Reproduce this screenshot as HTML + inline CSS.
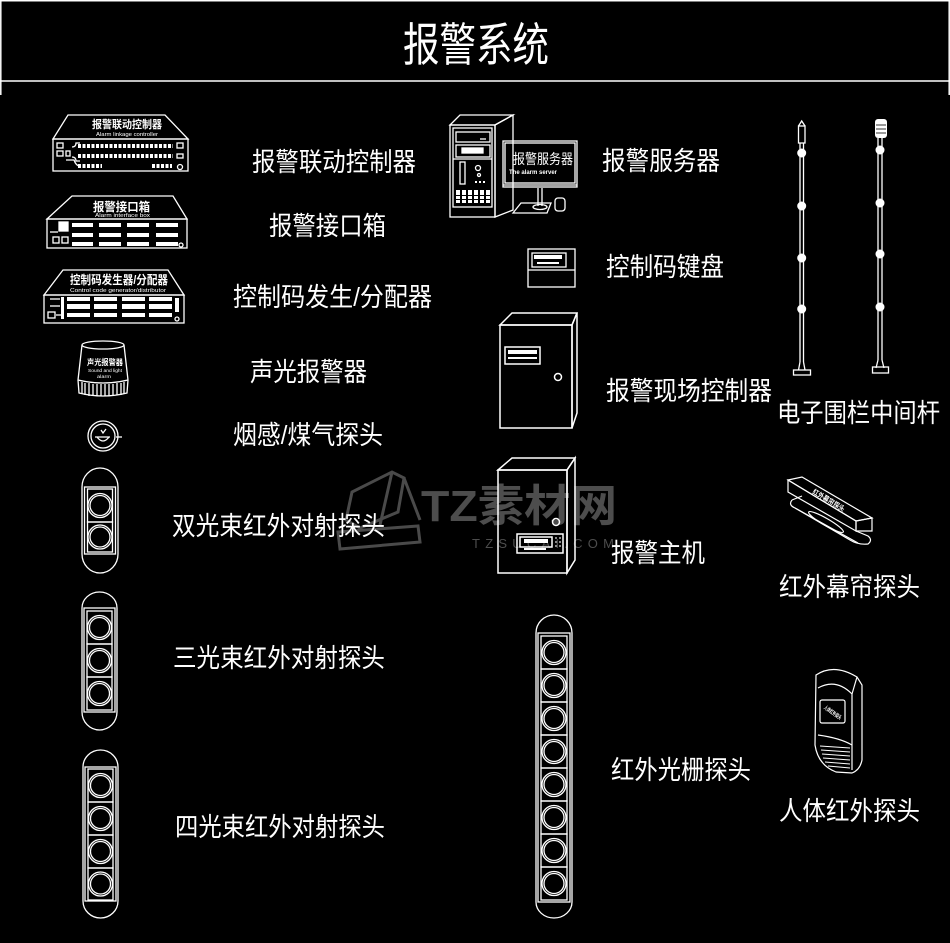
<!DOCTYPE html>
<html><head><meta charset="utf-8"><style>
html,body{margin:0;padding:0;background:#000;}
svg{display:block;}
text{font-family:"Liberation Sans","Noto Sans CJK SC",sans-serif;fill:#fff;}
</style></head><body>
<svg width="950" height="943" viewBox="0 0 950 943" xmlns="http://www.w3.org/2000/svg">
<rect width="950" height="943" fill="#000"/>
<!-- header frame -->
<g stroke="#fff" stroke-width="1.5" fill="none">
<line x1="0" y1="0.8" x2="950" y2="0.8"/>
<line x1="0.8" y1="0" x2="0.8" y2="95"/>
<line x1="949.2" y1="0" x2="949.2" y2="95"/>
<line x1="0" y1="81" x2="950" y2="81"/>
</g>
<text x="403" y="61" font-size="46" textLength="146" lengthAdjust="spacingAndGlyphs">报警系统</text>

<!-- watermark -->
<g stroke="#4a4a4a" stroke-width="3" fill="none">
<polygon points="338,532 418,526 420,542 340,549"/>
<polygon points="346,520 352,492 392,472 404,478 398,512 360,528"/>
<line x1="392" y1="472" x2="380" y2="525"/>
<line x1="404" y1="478" x2="420" y2="520"/>
</g>
<text x="421" y="521" font-size="44" font-weight="bold" style="fill:#4d4d4d" textLength="196" lengthAdjust="spacingAndGlyphs">TZ素材网</text>
<text x="472" y="548" font-size="13" style="fill:#4d4d4d" textLength="142" lengthAdjust="spacing">TZSUCAI.COM</text>

<!-- Device 1: alarm linkage controller -->
<g stroke="#fff" stroke-width="1.3" fill="none">
<polygon points="53,139 68,115 165,115 188,139"/>
<rect x="53" y="139" width="135" height="32"/>
<rect x="57" y="143" width="6" height="5"/><rect x="57" y="151" width="6" height="5"/><rect x="66" y="151" width="4" height="5"/>
<path d="M72,147 Q76,147 76,143 L80,143 M72,157 Q76,157 76,161 L80,161 M66,160 L74,160 Q76,166 80,166"/>
<rect x="177" y="143" width="6" height="5"/><rect x="177" y="154" width="6" height="4"/>
<circle cx="180" cy="167" r="2.5"/>
</g>
<g stroke="#fff" stroke-width="4" stroke-dasharray="3 1.5">
<line x1="78" y1="146" x2="173" y2="146"/>
<line x1="78" y1="156" x2="173" y2="156"/>
<line x1="78" y1="166" x2="102" y2="166"/>
<line x1="152" y1="166" x2="172" y2="166"/>
</g>
<text x="92" y="128" font-size="11" font-weight="bold" textLength="70" lengthAdjust="spacingAndGlyphs">报警联动控制器</text>
<text x="96" y="136" font-size="5.5" textLength="62" lengthAdjust="spacingAndGlyphs">Alarm linkage controller</text>

<!-- Device 2: interface box -->
<g stroke="#fff" stroke-width="1.3" fill="none">
<polygon points="47,219 72,196 173,196 187,219"/>
<rect x="47" y="219" width="140" height="29"/>
<rect x="59" y="222" width="9" height="9" fill="#fff"/>
<rect x="53" y="237" width="6" height="6"/><rect x="62" y="237" width="6" height="6"/>
<line x1="50" y1="232" x2="58" y2="232"/>
<circle cx="181" cy="245" r="2"/>
</g>
<g fill="#fff">
<rect x="72" y="223" width="21" height="4"/><rect x="99" y="223" width="22" height="4"/><rect x="127" y="223" width="22" height="4"/><rect x="156" y="223" width="22" height="4"/>
<rect x="72" y="233" width="21" height="4"/><rect x="99" y="233" width="22" height="4"/><rect x="127" y="233" width="22" height="4"/><rect x="156" y="233" width="22" height="4"/>
<rect x="72" y="242" width="21" height="4"/><rect x="99" y="242" width="22" height="4"/><rect x="127" y="242" width="22" height="4"/><rect x="156" y="242" width="22" height="4"/>
</g>
<text x="93" y="211" font-size="12" font-weight="bold" textLength="57" lengthAdjust="spacingAndGlyphs">报警接口箱</text>
<text x="95" y="217" font-size="5" textLength="55" lengthAdjust="spacingAndGlyphs">Alarm interface box</text>

<!-- Device 3: control code generator -->
<g stroke="#fff" stroke-width="1.3" fill="none">
<polygon points="44,295 63,270 168,270 184,295"/>
<rect x="44" y="295" width="140" height="28"/>
<line x1="50" y1="299" x2="60" y2="299"/><line x1="50" y1="306" x2="60" y2="306"/>
<rect x="48" y="312" width="7" height="6"/><line x1="56" y1="315" x2="63" y2="315"/>
<circle cx="177" cy="319" r="2"/>
</g>
<g fill="#fff">
<rect x="67" y="297" width="23" height="4"/><rect x="94" y="297" width="23" height="4"/><rect x="122" y="297" width="23" height="4"/><rect x="149" y="297" width="23" height="4"/>
<rect x="67" y="304" width="23" height="5"/><rect x="94" y="304" width="23" height="5"/><rect x="122" y="304" width="23" height="5"/><rect x="149" y="304" width="23" height="5"/>
<rect x="67" y="313" width="23" height="4"/><rect x="94" y="313" width="23" height="4"/><rect x="122" y="313" width="23" height="4"/><rect x="149" y="313" width="23" height="4"/>
<rect x="61" y="297" width="3" height="22"/><rect x="175" y="298" width="4" height="14"/>
</g>
<text x="70" y="284" font-size="12" font-weight="bold" textLength="98" lengthAdjust="spacingAndGlyphs">控制码发生器/分配器</text>
<text x="70" y="292" font-size="5" textLength="96" lengthAdjust="spacingAndGlyphs">Control code generator/distributor</text>

<!-- Sound & light alarm -->
<g stroke="#fff" stroke-width="1.3" fill="none">
<ellipse cx="103" cy="345" rx="21" ry="4"/>
<path d="M82,345 L78,380 M124,345 L128,380"/>
<path d="M78,380 Q103,386 128,380"/>
<path d="M78,380 L79,393 Q103,399 127,393 L128,380"/>
<path d="M82,382 V394 M85,383 V395 M89,383 V396 M93,384 V396 M97,384 V396 M101,384 V396 M105,384 V396 M109,384 V396 M113,384 V396 M117,383 V395 M121,383 V395 M124,382 V394"/>
</g>
<text x="87" y="365" font-size="8" font-weight="bold" textLength="36" lengthAdjust="spacingAndGlyphs">声光报警器</text>
<text x="88" y="372" font-size="4.5" textLength="34" lengthAdjust="spacingAndGlyphs">Sound and light</text>
<text x="97" y="378" font-size="4.5" textLength="14" lengthAdjust="spacingAndGlyphs">alarm</text>

<!-- Smoke detector -->
<g stroke="#fff" stroke-width="1.3" fill="none">
<circle cx="103" cy="436" r="15"/>
<circle cx="103" cy="436" r="12"/>
<path d="M95,437 L110,437 M97,437 Q103,445 109,437 M101,430 L103,433 L106,429"/>
<line x1="116" y1="437" x2="122" y2="437"/>
</g>

<!-- Dual beam -->
<g stroke="#fff" stroke-width="1.3" fill="none">
<path d="M82,487 A18,19 0 0 1 118,487 L118,554 A18,19 0 0 1 82,554 Z"/>
<rect x="84.5" y="487" width="31" height="67"/>
<rect x="87.5" y="489" width="25" height="33"/><circle cx="100" cy="505.5" r="12"/><circle cx="100" cy="505.5" r="10"/>
<rect x="87.5" y="522" width="25" height="30"/><circle cx="100" cy="537" r="12"/><circle cx="100" cy="537" r="10"/>
</g>

<!-- Triple beam -->
<g stroke="#fff" stroke-width="1.3" fill="none">
<path d="M82,608 A17.5,16 0 0 1 117,608 L117,712 A17.5,18 0 0 1 82,712 Z"/>
<rect x="84" y="608" width="31" height="104"/>
<rect x="87" y="611" width="25" height="33"/><circle cx="99.5" cy="627.5" r="12"/><circle cx="99.5" cy="627.5" r="10"/>
<rect x="87" y="644" width="25" height="33"/><circle cx="99.5" cy="660.5" r="12"/><circle cx="99.5" cy="660.5" r="10"/>
<rect x="87" y="677" width="25" height="33"/><circle cx="99.5" cy="693.5" r="12"/><circle cx="99.5" cy="693.5" r="10"/>
</g>

<!-- Quad beam -->
<g stroke="#fff" stroke-width="1.3" fill="none">
<path d="M83,767 A17.5,17 0 0 1 118,767 L118,901 A17.5,17 0 0 1 83,901 Z"/>
<rect x="85" y="767" width="31" height="134"/>
<rect x="88" y="769" width="25" height="33"/><circle cx="100.5" cy="785.5" r="12"/><circle cx="100.5" cy="785.5" r="10"/>
<rect x="88" y="802" width="25" height="33"/><circle cx="100.5" cy="818.5" r="12"/><circle cx="100.5" cy="818.5" r="10"/>
<rect x="88" y="835" width="25" height="33"/><circle cx="100.5" cy="851.5" r="12"/><circle cx="100.5" cy="851.5" r="10"/>
<rect x="88" y="868" width="25" height="32"/><circle cx="100.5" cy="884" r="12"/><circle cx="100.5" cy="884" r="10"/>
</g>

<!-- Grating -->
<g stroke="#fff" stroke-width="1.3" fill="none">
<path d="M536,633 A18,18 0 0 1 572,633 L572,902 A18,16 0 0 1 536,902 Z"/>
<rect x="538" y="633" width="32" height="269"/>
<rect x="541" y="636" width="26" height="33"/><circle cx="554" cy="652.5" r="12"/><circle cx="554" cy="652.5" r="10"/>
<rect x="541" y="669" width="26" height="33"/><circle cx="554" cy="685.5" r="12"/><circle cx="554" cy="685.5" r="10"/>
<rect x="541" y="702" width="26" height="33"/><circle cx="554" cy="718.5" r="12"/><circle cx="554" cy="718.5" r="10"/>
<rect x="541" y="735" width="26" height="33"/><circle cx="554" cy="751.5" r="12"/><circle cx="554" cy="751.5" r="10"/>
<rect x="541" y="768" width="26" height="33"/><circle cx="554" cy="784.5" r="12"/><circle cx="554" cy="784.5" r="10"/>
<rect x="541" y="801" width="26" height="33"/><circle cx="554" cy="817.5" r="12"/><circle cx="554" cy="817.5" r="10"/>
<rect x="541" y="834" width="26" height="33"/><circle cx="554" cy="850.5" r="12"/><circle cx="554" cy="850.5" r="10"/>
<rect x="541" y="867" width="26" height="33"/><circle cx="554" cy="883.5" r="12"/><circle cx="554" cy="883.5" r="10"/>
</g>

<!-- Server -->
<g stroke="#fff" stroke-width="1.3" fill="none">
<polygon points="450,125 460,115 513,115 495,125"/>
<polygon points="495,125 513,115 513,210 495,217"/>
<rect x="450" y="125" width="45" height="92"/>
<rect x="453" y="128" width="39" height="79"/>
<rect x="456" y="132" width="34" height="10"/>
<line x1="480" y1="139" x2="486" y2="139"/>
<rect x="456" y="145" width="34" height="12"/>
<rect x="462" y="148" width="21" height="5" fill="#fff"/>
<line x1="453" y1="159" x2="492" y2="159"/>
<rect x="460" y="162" width="5" height="22"/>
<circle cx="478" cy="168" r="2.5"/><circle cx="479" cy="175" r="1.5"/>
<rect x="503" y="141" width="74" height="46"/>
<rect x="505" y="143" width="70" height="40"/>
<line x1="503" y1="185" x2="577" y2="185"/>
<line x1="538" y1="188" x2="538" y2="206"/><line x1="542" y1="188" x2="542" y2="206"/>
<polygon points="513,213 521,203 551,203 547,213"/>
<ellipse cx="540" cy="207" rx="7" ry="2.5"/>
<rect x="555" y="198" width="10" height="13" rx="3"/>
</g>
<g fill="#fff">
<rect x="475" y="181" width="2" height="2"/><rect x="479" y="181" width="2" height="2"/><rect x="483" y="181" width="2" height="2"/>
<rect x="456" y="190" width="4" height="13"/><rect x="462" y="190" width="4" height="13"/><rect x="468" y="190" width="4" height="13"/><rect x="474" y="190" width="4" height="13"/><rect x="480" y="190" width="4" height="13"/><rect x="486" y="190" width="4" height="13"/>
</g>
<g fill="#000"><rect x="456" y="195" width="34" height="1"/><rect x="456" y="199" width="34" height="1"/></g>
<text x="513" y="164" font-size="14" textLength="60" lengthAdjust="spacingAndGlyphs">报警服务器</text>
<text x="509" y="174" font-size="6" font-weight="bold" textLength="48" lengthAdjust="spacingAndGlyphs">The alarm server</text>

<!-- Keypad -->
<g stroke="#fff" stroke-width="1.3" fill="none">
<rect x="528" y="249" width="47" height="38"/>
<rect x="532" y="253" width="34" height="14"/>
<line x1="528" y1="270" x2="575" y2="270"/>
</g>
<rect x="534" y="255" width="28" height="4" fill="#fff"/>
<rect x="537" y="262" width="22" height="2" fill="#fff"/>

<!-- Field controller -->
<g stroke="#fff" stroke-width="1.5" fill="none">
<polygon points="500,325 512,313 577,313 572,325"/>
<polygon points="572,325 577,313 577,413 572,428"/>
<rect x="500" y="325" width="72" height="103"/>
<rect x="505" y="347" width="35" height="17"/>
<circle cx="558" cy="377" r="3.5"/>
</g>
<rect x="508" y="350" width="29" height="4" fill="#fff"/>
<rect x="508" y="357" width="29" height="2" fill="#fff"/>

<!-- Alarm host -->
<g stroke="#fff" stroke-width="1.5" fill="none">
<polygon points="498,470 512,458 575,458 567,470"/>
<polygon points="567,470 575,458 575,560 567,573"/>
<rect x="498" y="470" width="69" height="103"/>
<circle cx="556" cy="522" r="3.5"/>
<rect x="517" y="534" width="46" height="19"/>
<rect x="520" y="537" width="32" height="10"/>
</g>
<rect x="524" y="539" width="24" height="4" fill="#fff"/>
<rect x="524" y="548" width="22" height="2" fill="#fff"/>
<g fill="#888"><rect x="555" y="537" width="2" height="2"/><rect x="559" y="537" width="2" height="2"/><rect x="555" y="541" width="2" height="2"/><rect x="559" y="541" width="2" height="2"/><rect x="555" y="545" width="2" height="2"/><rect x="559" y="545" width="2" height="2"/></g>

<!-- Pole 1 -->
<g stroke="#fff" stroke-width="1.3" fill="none">
<line x1="800" y1="143" x2="800" y2="362"/><line x1="803.5" y1="143" x2="803.5" y2="362"/>
<rect x="798.5" y="126" width="6.5" height="17"/>
<path d="M798.5,126 L801.7,121 L805,126"/>
<path d="M800,362 L798.5,370 M803.5,362 L805,370"/>
<rect x="793.5" y="370" width="17" height="5"/>
</g>
<g fill="#fff">
<circle cx="801.7" cy="153" r="4.5"/><circle cx="801.7" cy="206" r="4.5"/><circle cx="801.7" cy="258" r="4.5"/><circle cx="801.7" cy="309" r="4.5"/>
</g>
<!-- Pole 2 -->
<g stroke="#fff" stroke-width="1.3" fill="none">
<line x1="878" y1="138" x2="878" y2="360"/><line x1="882" y1="138" x2="882" y2="360"/>
<path d="M878,360 L876,368 M882,360 L884,368"/>
<rect x="872.5" y="367" width="16" height="6"/>
</g>
<g fill="#fff">
<rect x="875" y="119" width="12" height="19" rx="3"/>
<circle cx="880" cy="150" r="4.5"/><circle cx="880" cy="203" r="4.5"/><circle cx="880" cy="254" r="4.5"/><circle cx="880" cy="307" r="4.5"/>
</g>
<g stroke="#000" stroke-width="0.8"><line x1="876" y1="125" x2="886" y2="125"/><line x1="876" y1="129" x2="886" y2="129"/><line x1="876" y1="133" x2="886" y2="133"/></g>

<!-- Curtain detector -->
<g stroke="#fff" stroke-width="1.2" fill="none">
<polygon points="788,480 802,477 872,518 856,521"/>
<polygon points="788,480 856,521 856,531 788,492"/>
<polygon points="856,521 872,518 872,531 856,531"/>
<path d="M792,500 Q788,505 795,508 L850,540 Q858,545 868,544 Q873,540 868,536 L856,531"/>
<path d="M792,500 L802,496 M795,508 L858,543"/>
<ellipse cx="826" cy="522" rx="20" ry="3.5" transform="rotate(30 826 522)"/>
</g>
<text x="812" y="493" font-size="7" font-weight="bold" transform="rotate(31 812 493)" textLength="36" lengthAdjust="spacingAndGlyphs">红外幕帘探头</text>

<!-- PIR detector -->
<g stroke="#fff" stroke-width="1.2" fill="none">
<path d="M816,675 Q834,663 857,677 L862,685 L862,760 Q860,770 852,773 L836,772 Q818,765 815,745 Z"/>
<path d="M818,688 Q836,678 852,694 L852,770"/>
<path d="M857,677 L852,694"/>
<rect x="820" y="700" width="25" height="23" rx="2"/>
<path d="M818,735 Q840,738 852,745"/>
</g>
<g stroke="#fff" stroke-width="1">
<line x1="820" y1="746" x2="850" y2="748"/><line x1="821" y1="750" x2="850" y2="752"/><line x1="822" y1="754" x2="850" y2="756"/><line x1="823" y1="758" x2="850" y2="760"/><line x1="825" y1="762" x2="850" y2="764"/><line x1="828" y1="766" x2="850" y2="768"/>
</g>
<text x="823" y="714" font-size="5.5" font-weight="bold" transform="rotate(35 832 712)" textLength="20" lengthAdjust="spacingAndGlyphs">人体红外探头</text>

<!-- Labels -->
<text x="252" y="171" font-size="26" textLength="164" lengthAdjust="spacingAndGlyphs">报警联动控制器</text>
<text x="269" y="235" font-size="26" textLength="117" lengthAdjust="spacingAndGlyphs">报警接口箱</text>
<text x="233" y="306" font-size="26" textLength="199" lengthAdjust="spacingAndGlyphs">控制码发生/分配器</text>
<text x="250" y="381" font-size="26" textLength="117" lengthAdjust="spacingAndGlyphs">声光报警器</text>
<text x="233" y="444" font-size="26" textLength="150" lengthAdjust="spacingAndGlyphs">烟感/煤气探头</text>
<text x="172" y="535" font-size="26" textLength="213" lengthAdjust="spacingAndGlyphs">双光束红外对射探头</text>
<text x="173" y="667" font-size="26" textLength="212" lengthAdjust="spacingAndGlyphs">三光束红外对射探头</text>
<text x="175" y="836" font-size="26" textLength="210" lengthAdjust="spacingAndGlyphs">四光束红外对射探头</text>
<text x="602" y="170" font-size="26" textLength="118" lengthAdjust="spacingAndGlyphs">报警服务器</text>
<text x="606" y="276" font-size="26" textLength="118" lengthAdjust="spacingAndGlyphs">控制码键盘</text>
<text x="606" y="400" font-size="26" textLength="166" lengthAdjust="spacingAndGlyphs">报警现场控制器</text>
<text x="777" y="422" font-size="26" textLength="163" lengthAdjust="spacingAndGlyphs">电子围栏中间杆</text>
<text x="611" y="562" font-size="26" textLength="94" lengthAdjust="spacingAndGlyphs">报警主机</text>
<text x="779" y="596" font-size="26" textLength="141" lengthAdjust="spacingAndGlyphs">红外幕帘探头</text>
<text x="611" y="779" font-size="26" textLength="140" lengthAdjust="spacingAndGlyphs">红外光栅探头</text>
<text x="779" y="820" font-size="26" textLength="141" lengthAdjust="spacingAndGlyphs">人体红外探头</text>
</svg>
</body></html>
